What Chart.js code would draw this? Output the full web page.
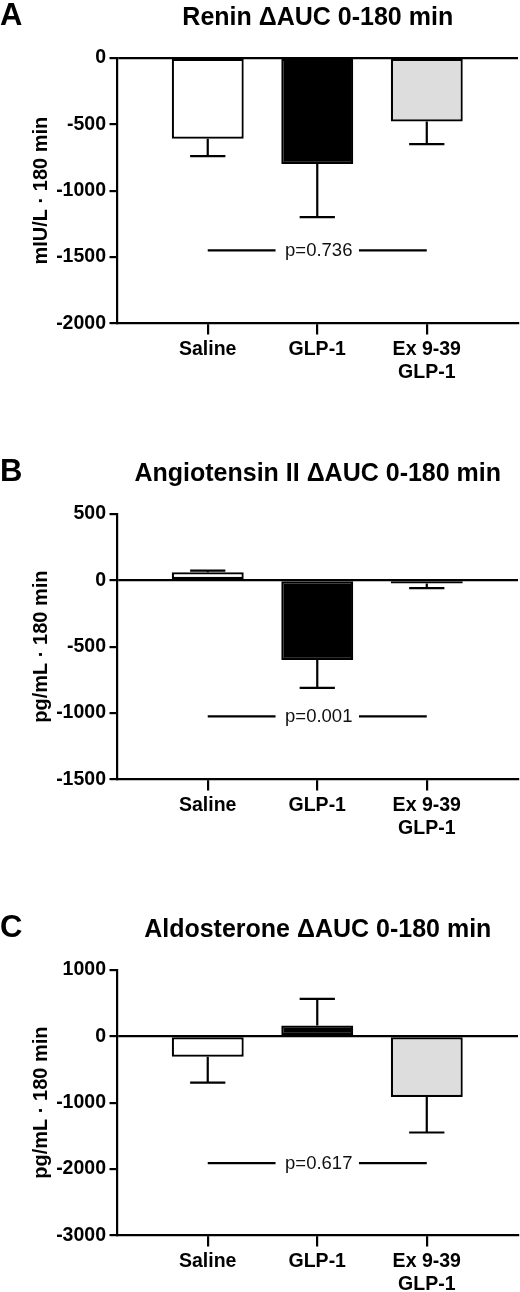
<!DOCTYPE html>
<html>
<head>
<meta charset="utf-8">
<script src="https://cdn.jsdelivr.net/npm/chart.js@4.4.1/dist/chart.umd.min.js"></script>
<style>
  html, body { margin: 0; padding: 0; background: #fff; }
  body { width: 520px; height: 1292px; position: relative; overflow: hidden; }
  .panel { position: absolute; left: 0; width: 520px; height: 456px; }
</style>
</head>
<body>
<div class="panel" style="top:0"><canvas id="chartA" width="520" height="456"></canvas></div>
<div class="panel" style="top:456px"><canvas id="chartB" width="520" height="456"></canvas></div>
<div class="panel" style="top:912px"><canvas id="chartC" width="520" height="456"></canvas></div>
<script>
// --- Data ---
const groups = ["Saline", "GLP-1", ["Ex 9-39", "GLP-1"]];

const reninMean = [-610, -800, -480];
const reninSem = [130, 400, 170];
const reninTicks = [-2000, -1500, -1000, -500, 0];
const reninPLevel = -1450;
const reninPText = "p=0.736";

const angMean = [60, -600, -25];
const angSem = [12, 210, 35];
const angTicks = [-1500, -1000, -500, 0, 500];
const angPLevel = -1025;
const angPText = "p=0.001";

const aldoMean = [-310, 160, -915];
const aldoSem = [390, 400, 535];
const aldoTicks = [-3000, -2000, -1000, 0, 1000];
const aldoPLevel = -1910;
const aldoPText = "p=0.617";

// --- Style ---
const FONT = "'Liberation Sans', Arial, Helvetica, sans-serif";
const LW = 2.2;
const fills = ["#ffffff", "#000000", "#dddddd"];

Chart.defaults.font.family = FONT;
Chart.defaults.color = "#000";

function makePanel(id, letter, title, yTitle, means, sems, ticks, pLevel, pText) {
    // error bars go away from zero, with a cap
    const errorBars = {
        id: "errorBars",
        afterDatasetsDraw(chart) {
            const { ctx, scales: { y } } = chart;
            const meta = chart.getDatasetMeta(0);
            ctx.save();
            ctx.strokeStyle = "#000";
            ctx.lineWidth = LW;
            meta.data.forEach((bar, i) => {
                const m = means[i];
                const end = y.getPixelForValue(m + (m >= 0 ? sems[i] : -sems[i]));
                const half = bar.width * 0.245;
                ctx.beginPath();
                ctx.moveTo(bar.x, bar.y);
                ctx.lineTo(bar.x, end);
                ctx.moveTo(bar.x - half, end);
                ctx.lineTo(bar.x + half, end);
                ctx.stroke();
            });
            ctx.restore();
        },
    };

    // p-value line + panel letter
    const extras = {
        id: "extras",
        afterDraw(chart) {
            const { ctx, scales: { x, y } } = chart;
            const py = y.getPixelForValue(pLevel);
            const x1 = x.getPixelForValue(1);
            const x2 = x.getPixelForValue(2);
            const x3 = x.getPixelForValue(3);
            ctx.save();
            ctx.font = "18.5px " + FONT;
            const tw = ctx.measureText(pText).width;
            const gap = tw / 2 + 8;
            ctx.strokeStyle = "#000";
            ctx.lineWidth = LW;
            ctx.beginPath();
            ctx.moveTo(x1, py);
            ctx.lineTo(x2 - gap, py);
            ctx.moveTo(x2 + gap, py);
            ctx.lineTo(x3, py);
            ctx.stroke();
            ctx.fillStyle = "#111";
            ctx.textAlign = "center";
            ctx.textBaseline = "middle";
            ctx.fillText(pText, x2 + 1.5, py + 1);

            ctx.font = "bold 31px " + FONT;
            ctx.fillStyle = "#000";
            ctx.textAlign = "left";
            ctx.fillText(letter, 0, 16);
            ctx.restore();
        },
    };

    return new Chart(document.getElementById(id), {
        type: "bar",
        data: {
            datasets: [{
                data: means.map((v, i) => ({ x: i + 1, y: v })),
                backgroundColor: fills,
                borderColor: "#000",
                borderWidth: LW,
                borderSkipped: false,
                categoryPercentage: 1,
                barPercentage: 0.657,
            }],
        },
        options: {
            responsive: false,
            animation: false,
            layout: { padding: { top: 0, right: 2, bottom: 0, left: 0 } },
            plugins: {
                legend: { display: false },
                tooltip: { enabled: false },
                title: {
                    display: true,
                    text: title,
                    fullSize: false,
                    color: "#000",
                    font: { size: 25, weight: "bold", lineHeight: 1.2 },
                    padding: { top: 3, bottom: 24.7 },
                },
            },
            scales: {
                x: {
                    type: "linear",
                    offset: false,
                    min: 0.176,
                    max: 3.833,
                    afterBuildTicks: s => { s.ticks = groups.map((g, i) => ({ value: i + 1 })); },
                    afterFit: s => { s.height = 132.5; },
                    border: { display: true, color: "#000", width: LW },
                    grid: {
                        offset: false,
                        drawOnChartArea: false,
                        drawTicks: true,
                        tickLength: 11,
                        color: "#000",
                        tickColor: "#000",
                        lineWidth: LW,
                        tickWidth: LW,
                    },
                    ticks: {
                        autoSkip: false,
                        maxRotation: 0,
                        padding: 3.3,
                        color: "#000",
                        font: { size: 19.5, weight: "bold", lineHeight: 1.18 },
                        callback: v => groups[Math.round(v) - 1],
                    },
                },
                y: {
                    min: ticks[0],
                    max: ticks[ticks.length - 1],
                    afterBuildTicks: s => { s.ticks = ticks.map(v => ({ value: v })); },
                    afterFit: s => { s.width = 117.5; },
                    border: { display: true, color: "#000", width: LW },
                    grid: {
                        drawOnChartArea: true,
                        drawTicks: true,
                        tickLength: 8,
                        color: c => (c.tick && c.tick.value === 0 ? "#000" : "rgba(0,0,0,0)"),
                        tickColor: "#000",
                        lineWidth: LW,
                        tickWidth: LW,
                    },
                    ticks: {
                        padding: 3.5,
                        color: "#000",
                        font: { size: 19.5, weight: "bold" },
                        callback: v => String(v),
                    },
                    title: {
                        display: true,
                        text: yTitle,
                        color: "#000",
                        font: { size: 20, weight: "bold", lineHeight: 1.2 },
                        padding: { top: 29, bottom: 0 },
                    },
                },
            },
        },
        plugins: [errorBars, extras],
    });
}

makePanel("chartA", "A", "Renin \u0394AUC 0-180 min", "mIU/L \u00b7 180 min",
    reninMean, reninSem, reninTicks, reninPLevel, reninPText);
makePanel("chartB", "B", "Angiotensin II \u0394AUC 0-180 min", "pg/mL \u00b7 180 min",
    angMean, angSem, angTicks, angPLevel, angPText);
makePanel("chartC", "C", "Aldosterone \u0394AUC 0-180 min", "pg/mL \u00b7 180 min",
    aldoMean, aldoSem, aldoTicks, aldoPLevel, aldoPText);
</script>
</body>
</html>
